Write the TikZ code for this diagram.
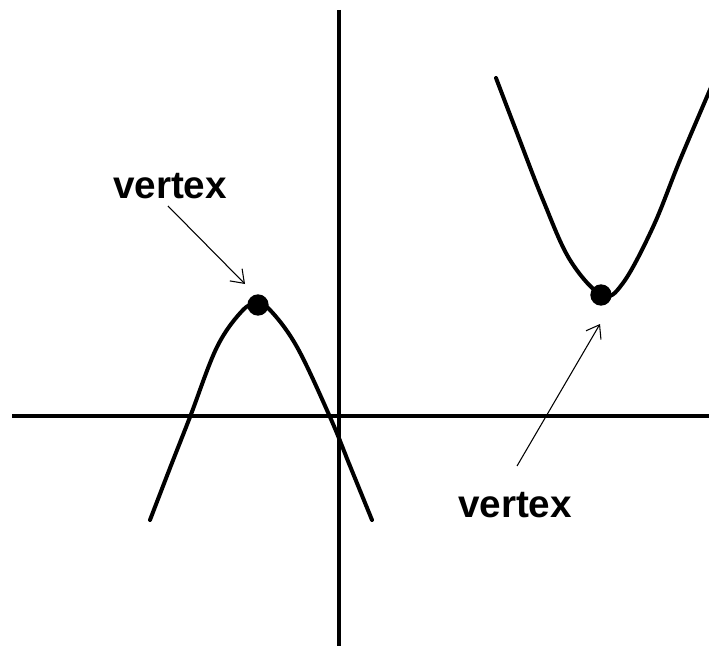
\documentclass[tikz,border=0pt]{standalone}
\usepackage{fontspec}
\setsansfont{Liberation Sans}
\usepackage{tikz}
\usetikzlibrary{arrows.meta}

\begin{document}
\begin{tikzpicture}[x=0.75pt, y=-0.75pt,
  axis/.style={line width=3pt},
  curve/.style={line width=3pt, line join=round, line cap=round},
  vdot/.style={circle, fill=black, inner sep=0pt, minimum size=#1},
  lbl/.style={font=\sffamily\bfseries\fontsize{29}{32}\selectfont, inner sep=0pt},
  pointer/.style={line width=0.8pt, -{Straight Barb[length=9pt, width=13pt, line width=0.8pt]}},
]
\useasboundingbox (0,0) rectangle (709,645);
\begin{scope}
\clip (0,0) rectangle (709,645);
% Axes
\coordinate (yt) at (339,10);
\coordinate (yb) at (339,650);
\coordinate (xl) at (12,416);
\coordinate (xr) at (715,416);
\draw[axis] (yt) -- (yb);
\draw[axis] (xl) -- (xr);
% Downward parabola
\draw[curve] plot[smooth, tension=0.6] coordinates {
  (150,520) (170,468) (190,417) (217,347) (243,310) (257,305)
  (270,310) (297,347) (330,417) (350,466) (372,520)};
% Upward parabola
\draw[curve] plot[smooth, tension=0.6] coordinates {
  (496,78) (517,133) (543,200) (570,260) (602,295)
  (623,283) (653,227) (680,160) (712,85)};
\end{scope}
% Vertices
\node[vdot=16pt] (v1) at (258,305) {};
\node[vdot=16pt] (v2) at (601,295) {};
% Labels
\node[lbl] (t1) at (170,186) {vertex};
\node[lbl] (t2) at (515,505) {vertex};
\coordinate (a1) at (168,206);
\coordinate (a2) at (517,466);
\coordinate (h1) at (245,284);
\coordinate (h2) at (600,324);
\draw[pointer] (a1) -- (h1);
\draw[pointer] (a2) -- (h2);
\end{tikzpicture}
\end{document}
